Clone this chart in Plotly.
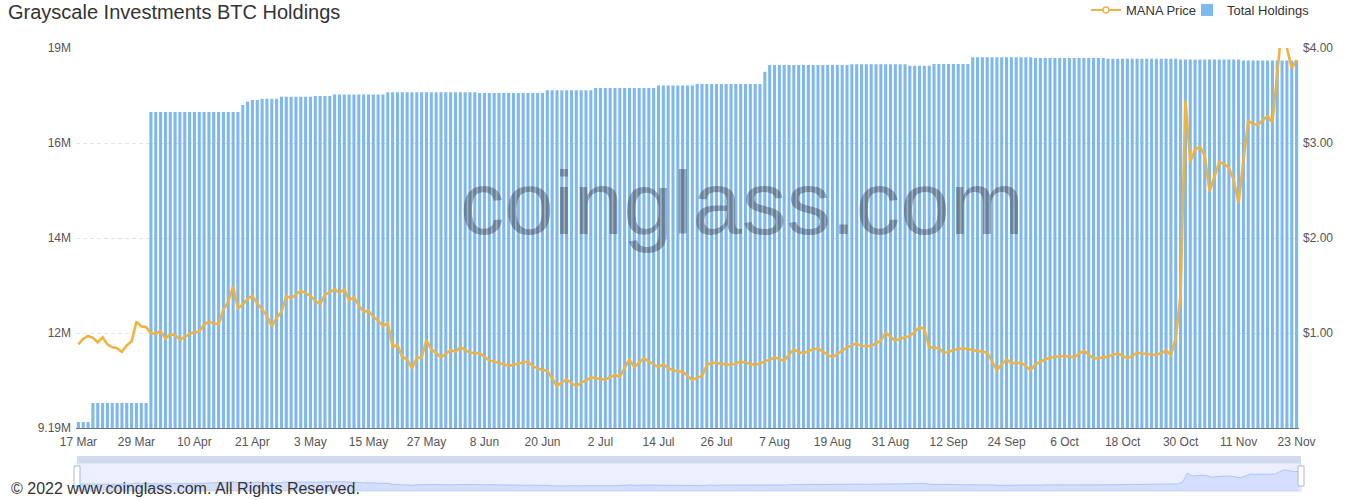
import pandas as pd
import plotly.graph_objects as go

# ---------------- data ----------------
# daily categories 17 Mar 2022 .. 23 Nov 2022 (the source repeats one April day)
dates = list(pd.date_range("2022-03-17", "2022-11-23").strftime("%Y-%m-%d"))
dates.insert(dates.index("2022-04-15"), "2022-04-15")

tick_labels = ["17 Mar", "29 Mar", "10 Apr", "21 Apr", "3 May", "15 May", "27 May",
               "8 Jun", "20 Jun", "2 Jul", "14 Jul", "26 Jul", "7 Aug", "19 Aug",
               "31 Aug", "12 Sep", "24 Sep", "6 Oct", "18 Oct", "30 Oct", "11 Nov", "23 Nov"]

# Total holdings, millions
holdings = (
    [9.345] * 3 + [9.835] * 12 + [17.348] * 19 + [17.53] + [17.62] + [17.66] * 2 +
    [17.69] * 4 + [17.74] * 7 + [17.76] * 4 + [17.80] * 11 + [17.86] * 19 +
    [17.84] * 14 + [17.91] * 10 + [17.97] * 13 + [18.03] * 8 + [18.07] * 14 +
    [18.39] + [18.56] * 17 + [18.58] * 12 + [18.54] * 5 + [18.59] * 8 +
    [18.76] * 13 + [18.74] * 15 + [18.72] * 15 + [18.70] * 13 + [18.68] * 12
)

# MANA price, USD
price = [
    0.88, 0.94, 0.97, 0.95, 0.90, 0.955, 0.88, 0.85, 0.84, 0.80,
    0.87, 0.91, 1.12, 1.07, 1.06, 1.00, 0.99, 1.02, 0.94, 0.985,
    0.98, 0.93, 0.96, 0.99, 1.01, 1.015, 1.09, 1.12, 1.10, 1.095,
    1.25, 1.33, 1.49, 1.26, 1.30, 1.36, 1.39, 1.31, 1.25, 1.18,
    1.07, 1.16, 1.22, 1.39, 1.365, 1.41, 1.445, 1.42, 1.39, 1.34,
    1.305, 1.40, 1.43, 1.46, 1.424, 1.46, 1.347, 1.376, 1.29, 1.224,
    1.235, 1.172, 1.13, 1.074, 1.102, 0.856, 0.874, 0.744, 0.723, 0.628,
    0.734, 0.744, 0.926, 0.828, 0.79, 0.744, 0.78, 0.821, 0.803, 0.853,
    0.82, 0.795, 0.79, 0.786, 0.75, 0.709, 0.70, 0.688, 0.67, 0.653,
    0.667, 0.681, 0.69, 0.698, 0.65, 0.628, 0.61, 0.603, 0.52, 0.442,
    0.48, 0.512, 0.47, 0.442, 0.477, 0.50, 0.533, 0.52, 0.515, 0.512,
    0.535, 0.558, 0.54, 0.63, 0.723, 0.639, 0.69, 0.734, 0.70, 0.665,
    0.639, 0.674, 0.628, 0.61, 0.593, 0.593, 0.55, 0.505, 0.53, 0.547,
    0.663, 0.688, 0.685, 0.681, 0.67, 0.663, 0.68, 0.698, 0.69, 0.675,
    0.663, 0.68, 0.698, 0.72, 0.744, 0.73, 0.709, 0.77, 0.828, 0.80,
    0.786, 0.81, 0.83, 0.839, 0.803, 0.77, 0.744, 0.78, 0.82, 0.849,
    0.87, 0.891, 0.863, 0.863, 0.863, 0.89, 0.92, 1.003, 0.96, 0.919,
    0.94, 0.955, 0.968, 1.01, 1.063, 1.044, 0.849, 0.845, 0.84, 0.79,
    0.80, 0.821, 0.83, 0.839, 0.83, 0.82, 0.814, 0.80, 0.793, 0.70,
    0.611, 0.67, 0.723, 0.681, 0.685, 0.688, 0.65, 0.611, 0.67, 0.70,
    0.723, 0.74, 0.751, 0.755, 0.758, 0.75, 0.744, 0.78, 0.814, 0.77,
    0.734, 0.734, 0.74, 0.751, 0.77, 0.786, 0.76, 0.734, 0.76, 0.793,
    0.785, 0.779, 0.772, 0.768, 0.79, 0.814, 0.768, 0.95, 1.40, 3.45,
    2.80, 2.93, 2.96, 2.87, 2.49, 2.65, 2.80, 2.78, 2.74, 2.61,
    2.365, 2.82, 3.235, 3.20, 3.19, 3.24, 3.284, 3.214, 3.77, 4.25,
    4.00, 3.786, 3.874,
]

left_tick_text = ["9.19M", "12M", "14M", "16M", "19M"]
right_tick_text = ["$1.00", "$2.00", "$3.00", "$4.00"]

assert len(dates) == len(holdings) == len(price) == 253

# ---------------- layout helpers (screen pixels) ----------------
W, H = 1370, 500
L, R, T, B = 76, 1299, 48, 491          # plot-area box
def xp(px): return (px - L) / (R - L)
def yp(py): return (B - py) / (B - T)

pos = list(range(len(dates)))
y_min, y_max = 9.19, 19.0
step = (y_max - y_min) / 4
left_tick_vals = [y_min + k * step for k in range(5)]

FONT = "Arial, 'Liberation Sans', sans-serif"
BLUE = "rgba(103,171,235,0.85)"
GOLD = "#EDB443"

fig = go.Figure()

# legend proxy for the line (line + hollow circle)
fig.add_trace(go.Scatter(x=[None], y=[None], name="MANA Price", mode="lines+markers",
                         line=dict(color=GOLD, width=2),
                         marker=dict(symbol="circle", size=6, color="white",
                                     line=dict(color=GOLD, width=1.5)),
                         yaxis="y2", legend="legend"))

fig.add_trace(go.Bar(x=pos, y=holdings, name="Total Holdings",
                     marker=dict(color=BLUE, line=dict(width=0)),
                     hovertext=dates, legend="legend2"))

fig.add_trace(go.Scatter(x=pos, y=price, name="MANA Price", mode="lines",
                         line=dict(color=GOLD, width=2.6), yaxis="y2",
                         showlegend=False, hovertext=dates))

# data-zoom slider shadow
pmin, pmax = min(price), max(price)
pad = (pmax - pmin) * 0.3
lo, hi = pmin - pad, pmax + pad
fig.add_trace(go.Scatter(x=pos, y=[lo] * len(pos), mode="lines", line=dict(width=0),
                         xaxis="x2", yaxis="y3", showlegend=False, hoverinfo="skip"))
fig.add_trace(go.Scatter(x=pos, y=price, mode="lines", fill="tonexty",
                         fillcolor="rgba(143,176,247,0.25)",
                         line=dict(color="#8fb0f7", width=0.6),
                         xaxis="x2", yaxis="y3", showlegend=False, hoverinfo="skip"))

shapes = [
    # move-handle strip
    dict(type="rect", xref="paper", yref="paper", x0=xp(77), x1=xp(1301),
         y0=yp(463), y1=yp(456), fillcolor="#D2DBEE", line=dict(width=0), layer="below"),
    # slider body
    dict(type="rect", xref="paper", yref="paper", x0=xp(77), x1=xp(1301),
         y0=yp(491), y1=yp(463), fillcolor="#EBEFFF",
         line=dict(color="#D2DBEE", width=1), layer="below"),
    # handles
    dict(type="rect", xref="paper", yref="paper", x0=xp(74), x1=xp(80),
         y0=yp(486), y1=yp(466), fillcolor="white",
         line=dict(color="#ACB8D1", width=1), layer="above"),
    dict(type="rect", xref="paper", yref="paper", x0=xp(1298), x1=xp(1304),
         y0=yp(486), y1=yp(466), fillcolor="white",
         line=dict(color="#ACB8D1", width=1), layer="above"),
]

annotations = [
    dict(text="coinglass.com", xref="paper", yref="paper", x=xp(742), y=yp(203),
         xanchor="center", yanchor="middle", showarrow=False,
         font=dict(family=FONT, size=89, color="rgba(50,50,50,0.4)")),
    dict(text="© 2022 www.coinglass.com. All Rights Reserved.", xref="paper", yref="paper",
         x=xp(9), y=yp(488), xanchor="left", yanchor="middle", showarrow=False,
         font=dict(family=FONT, size=16, color="#333333")),
]

legend_common = dict(orientation="h", yanchor="middle", y=yp(10), xanchor="left",
                     font=dict(family=FONT, size=13, color="#333333"),
                     bgcolor="rgba(0,0,0,0)", itemwidth=30)

fig.update_layout(
    width=W, height=H,
    margin=dict(l=L, r=W - R, t=T, b=H - B, pad=0, autoexpand=False),
    paper_bgcolor="white", plot_bgcolor="white",
    font=dict(family=FONT, size=12, color="#555555"),
    title=dict(text="Grayscale Investments BTC Holdings", x=8 / W, xanchor="left",
               y=1 - 12 / H, yanchor="middle", xref="container", yref="container",
               font=dict(family=FONT, size=20, color="#333333")),
    bargap=0.36,
    showlegend=True,
    legend=dict(legend_common, x=xp(1086)),
    legend2=dict(legend_common, x=xp(1187)),
    xaxis=dict(domain=[0, 1], anchor="y", range=[-0.5, len(pos) - 0.5],
               tickmode="array", tickvals=pos[::12], ticktext=tick_labels,
               showline=True, linecolor="#6E7079", linewidth=1, ticks="",
               ticklabelstandoff=3,
               showgrid=False, zeroline=False, automargin=False,
               tickfont=dict(family=FONT, size=12, color="#555555")),
    yaxis=dict(domain=[yp(428), 1], anchor="x", range=[y_min, y_max],
               tickmode="array", tickvals=left_tick_vals, ticktext=left_tick_text,
               showgrid=True, gridcolor="#E0E6F1", griddash="4px,3px", gridwidth=1,
               zeroline=False, showline=False, ticks="", automargin=False,
               ticklabelstandoff=4,
               tickfont=dict(family=FONT, size=12, color="#555555")),
    yaxis2=dict(overlaying="y", side="right", anchor="x", range=[0, 4],
                tickmode="array", tickvals=[1, 2, 3, 4], ticktext=right_tick_text,
                showgrid=False, zeroline=False, showline=False, ticks="", automargin=False,
                ticklabelstandoff=3,
                tickfont=dict(family=FONT, size=12, color="#555555")),
    xaxis2=dict(domain=[xp(77), 1], anchor="y3", range=[0, len(pos) - 1], visible=False),
    yaxis3=dict(domain=[0, yp(463) - 0.004], anchor="x2", range=[lo, hi], visible=False),
    shapes=shapes,
    annotations=annotations,
    hovermode="x",
)

# the page body gets no default margin so the figure sits at the window's corner
fig.write_html("out.html", config={"displayModeBar": False},
               post_script="document.body.style.margin='0';")
